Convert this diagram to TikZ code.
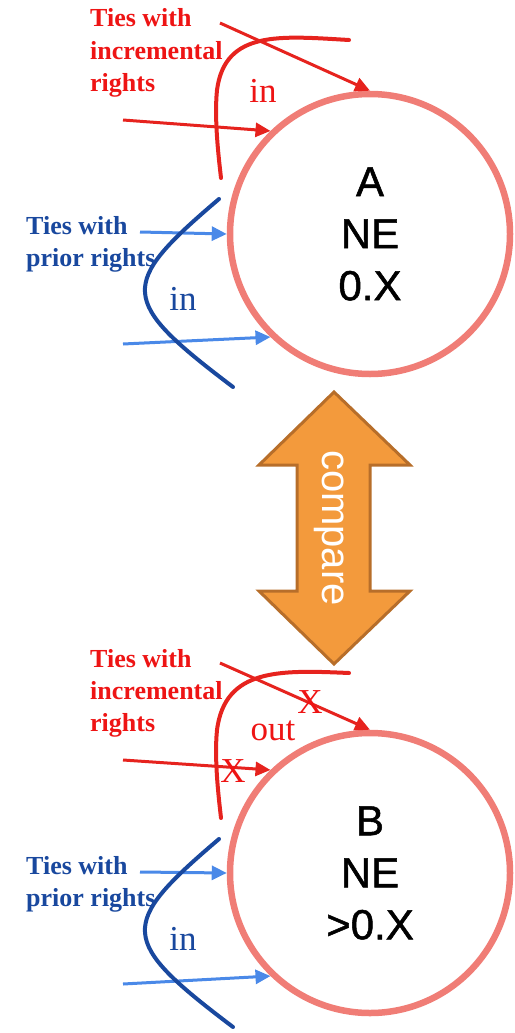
\documentclass[tikz,border=0pt]{standalone}
\usepackage{fontspec}
\setmainfont{Liberation Serif}
\setsansfont{Liberation Sans}
\newfontfamily\firmfont{Liberation Sans}[FakeBold=1.2]
\usetikzlibrary{arrows.meta, positioning}
\definecolor{ringred}{RGB}{240,125,118}
\definecolor{tiered}{RGB}{230,35,30}
\definecolor{labelred}{RGB}{238,20,20}
\definecolor{darkblue}{RGB}{25,72,158}
\definecolor{tieblue}{RGB}{74,137,232}
\definecolor{cmpfill}{RGB}{243,154,60}
\definecolor{cmpdraw}{RGB}{183,110,42}
\tikzset{%
	firm/.style={
		circle,
		draw=ringred,
		line width=6.5pt,
		minimum size=280pt,
		inner sep=0pt,
		align=center,
		font=\firmfont\fontsize{42}{52}\selectfont
	},
	tielabel/.style={
		inner sep=0pt,
		align=left,
		font=\bfseries\fontsize{26}{32}\selectfont
	},
	inctie/.style={draw=tiered, line width=3pt, -{Triangle[length=15pt,width=14pt]}},
	priortie/.style={draw=tieblue, line width=3pt, -{Triangle[length=15pt,width=14pt]}},
	sweep/.style={line width=4pt, line cap=round},
	flowword/.style={inner sep=0pt, font=\fontsize{35}{40}\selectfont},
}
\begin{document}
\begin{tikzpicture}[x=1pt, y=-1pt]
	\useasboundingbox (0,0) rectangle (514,1033);

	% Firm A
	\node[firm] (A) at (370,234) {A\\NE\\0.X};

	% incremental rights ties of A
	\node[tielabel, text=labelred, anchor=base west] (incA) at (90,91) {Ties with\\incremental\\rights};
	\coordinate (incA1) at (220,23);
	\coordinate (incA2) at (123,120);
	\draw[inctie] (incA1) -- (A.north);
	\draw[inctie] (incA2) -- (A.134);
	\draw[sweep, tiered] (349,40) .. controls (280,36) and (225,30) .. (217,90)
		.. controls (214,120) and (219,160) .. (221,178);
	\node[flowword, text=labelred, anchor=base] (inA) at (263,102) {in};

	% prior rights ties of A
	\node[tielabel, text=darkblue, anchor=base west] (priorA) at (26,266) {Ties with\\prior rights};
	\coordinate (priorA1) at (140,232);
	\coordinate (priorA2) at (123,344);
	\draw[priortie] (priorA1) -- (A.west);
	\draw[priortie] (priorA2) -- (A.226);
	\draw[sweep, darkblue] (219,199) .. controls (118,285) and (118,300) .. (233,387);
	\node[flowword, text=darkblue, anchor=base] (inA2) at (183,310) {in};

	% compare arrow
	\draw[fill=cmpfill, draw=cmpdraw, line width=3pt, line join=miter]
		(334,392) -- (410,465) -- (370,465) -- (370,591) -- (410,591) -- (334,664)
		-- (259,591) -- (297,591) -- (297,465) -- (259,465) -- cycle;
	\node[rotate=-90, text=white, inner sep=0pt, font=\sffamily\fontsize{40}{44}\selectfont] (cmp) at (329,528) {compare};

	% Firm B
	\node[firm] (B) at (370,873) {B\\NE\\>0.X};

	% incremental rights ties of B
	\node[tielabel, text=labelred, anchor=base west] (incB) at (90,731) {Ties with\\incremental\\rights};
	\coordinate (incB1) at (220,663);
	\coordinate (incB2) at (123,760);
	\draw[inctie] (incB1) -- (B.north);
	\draw[inctie] (incB2) -- (B.134);
	\draw[sweep, tiered] (349,673) .. controls (280,670) and (225,668) .. (217,730)
		.. controls (214,760) and (219,800) .. (221,818);
	\node[flowword, text=labelred, anchor=base] (outB) at (273,740) {out};
	\node[flowword, text=labelred, anchor=base] (xB1) at (310,713) {X};
	\node[flowword, text=labelred, anchor=base] (xB2) at (233,782) {X};

	% prior rights ties of B
	\node[tielabel, text=darkblue, anchor=base west] (priorB) at (26,906) {Ties with\\prior rights};
	\coordinate (priorB1) at (140,872);
	\coordinate (priorB2) at (123,984);
	\draw[priortie] (priorB1) -- (B.west);
	\draw[priortie] (priorB2) -- (B.226);
	\draw[sweep, darkblue] (219,839) .. controls (118,925) and (118,940) .. (233,1027);
	\node[flowword, text=darkblue, anchor=base] (inB) at (183,950) {in};
\end{tikzpicture}
\end{document}
